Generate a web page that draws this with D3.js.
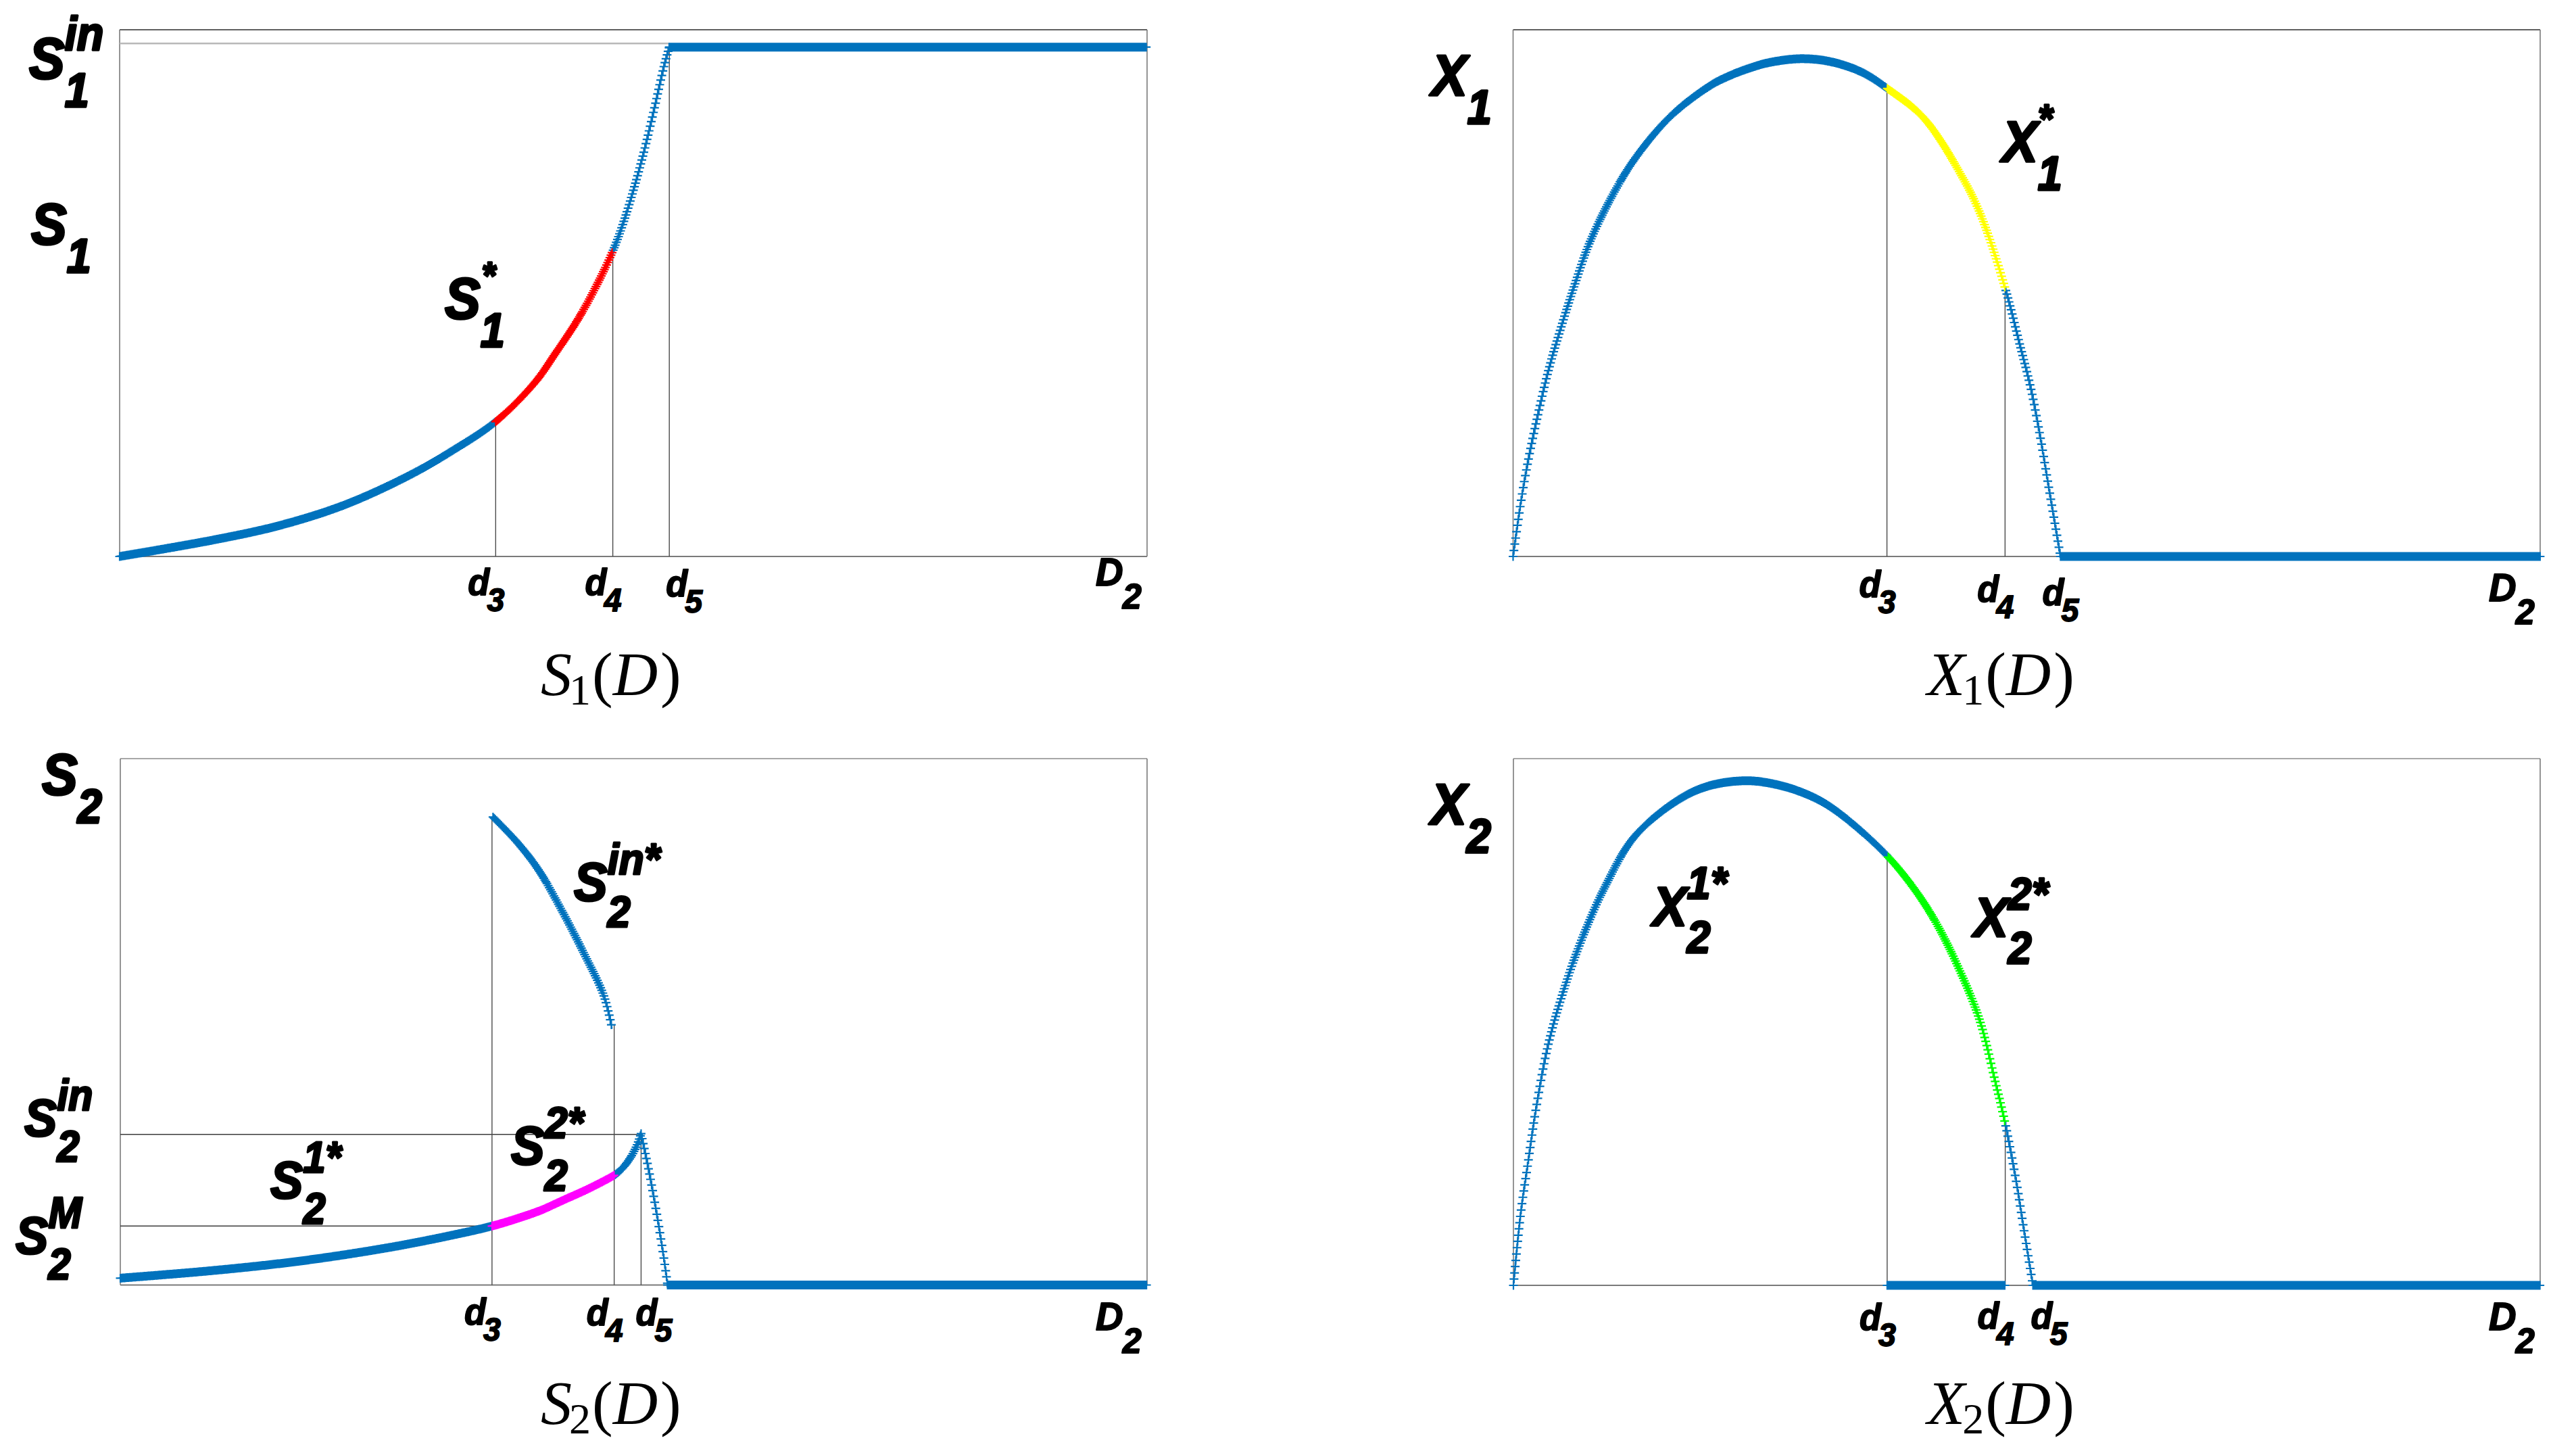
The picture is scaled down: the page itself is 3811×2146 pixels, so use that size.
<!DOCTYPE html>
<html><head><meta charset="utf-8">
<script src="https://cdn.jsdelivr.net/npm/d3@7"></script>
<style>html,body{margin:0;padding:0;background:#fff}svg{display:block}</style>
</head><body>
<svg id="chart" width="3811" height="2146"></svg>
<script>
// ---------------- data (arbitrary units, D in [0,100]) ----------------
// Panel S1(D)
const s1D = [0, 9.3, 15.6, 21.9, 28.2, 32.4, 36.6, 40.4, 42.5, 44.6, 46.3, 48.0, 49.0, 50.0, 51.0, 52.0, 53.0, 53.5];
const s1V = [0, 3.2, 5.9, 9.8, 15.4, 20.1, 25.6, 33.0, 38.8, 45.0, 51.0, 58.0, 63.2, 69.5, 76.6, 84.7, 93.2, 96.7];
const s1FlatD = [53.5, 100];
const s1FlatV = [96.7, 96.7];
const s1InLevel = 97.4;
const s1Ticks = [36.6, 48.0, 53.5];
const s1GuideTop = [25.6, 58.0, 96.7];

// Panel X1(D)
const x1D = [0, 0.75, 1.4, 2.2, 3.4, 4.5, 6.0, 7.5, 9.8, 12.0, 15.4, 19.2, 21.0, 23.0, 25.0, 28.1, 31.0, 34.0, 36.4, 40.0, 43.8, 45.6, 47.9, 49.3, 50.4, 51.3, 52.2, 53.3];
const x1V = [0, 10.2, 17.5, 25.0, 35.0, 42.4, 51.6, 59.8, 69.0, 75.9, 83.7, 89.4, 91.2, 92.7, 93.8, 94.5, 93.9, 91.9, 88.9, 83.2, 71.8, 64.5, 51.0, 40.5, 32.0, 23.0, 12.6, 0];
const x1FlatD = [53.3, 100];
const x1FlatV = [0, 0];
const x1Ticks = [36.4, 47.9, 53.3];
const x1GuideTop = [88.9, 51.0];

// Panel S2(D)
const s2D = [0, 9.3, 17.7, 26.1, 32.4, 36.2, 38.75, 40.95, 43.14, 45.34, 47.09, 48.08, 48.52, 48.85, 49.29, 49.73, 50.06, 50.39, 50.72];
const s2V = [1.3, 2.8, 4.6, 7.1, 9.5, 11.2, 12.69, 14.19, 16.12, 18.05, 19.76, 20.83, 21.47, 22.07, 23.10, 24.34, 25.50, 26.91, 28.75];
const s2DropD = [50.72, 51.5, 52.3, 53.0, 53.3];
const s2DropV = [28.75, 21.5, 12.9, 4.3, 0];
const s2FlatD = [53.3, 100];
const s2FlatV = [0, 0];
const s2InStarD = [36.3, 38.7, 40.75, 42.9, 45.0, 47.1, 47.9];
const s2InStarV = [88.9, 84.0, 78.8, 71.5, 63.6, 54.9, 48.7];
const s2InLevel = 28.6;
const s2MLevel = 11.2;
const s2Ticks = [36.2, 48.1, 50.72];
const s2GuideTop = [88.5, 49.4, 28.75];

// Panel X2(D)
const x2D = [0, 0.7, 1.4, 2.2, 3.4, 5.1, 6.8, 8.9, 11.8, 16.0, 19.0, 22.75, 26.0, 28.6, 30.5, 32.8, 36.4, 39.1, 41.2, 43.3, 45.4, 46.95, 47.9, 49.0, 49.7, 50.6];
const x2V = [0, 13.5, 23.0, 33.5, 45.8, 57.25, 66.4, 75.6, 85.2, 92.1, 94.8, 95.8, 94.9, 93.2, 91.3, 88.0, 81.55, 75.1, 68.7, 60.5, 50.4, 38.5, 30.7, 19.4, 10.8, 0];
const x2ZeroD = [36.4, 47.9];
const x2ZeroV = [0, 0];
const x2FlatD = [50.6, 100];
const x2FlatV = [0, 0];
const x2Ticks = [36.4, 47.9, 50.6];
const x2GuideTop = [81.55, 30.7];

const tickSubs = ['3', '4', '5'];

// ---------------- drawing ----------------
const BLUE = '#0072BD', RED = '#FF0000', YELLOW = '#FFFF00', MAGENTA = '#FF00FF', GREEN = '#00FF00';
const SMOOTH = d3.curveCatmullRom.alpha(0.5);
const svg = d3.select('#chart');
svg.append('rect').attr('width', 3811).attr('height', 2146).attr('fill', '#fff');

function panel(l, r, t, b, topColor) {
  const g = svg.append('g');
  const x = d3.scaleLinear().domain([0, 100]).range([l, r]);
  const y = d3.scaleLinear().domain([0, 100]).range([b, t]);
  const fr = g.append('g').attr('fill', 'none');
  fr.append('line').attr('x1', l).attr('x2', r).attr('y1', t).attr('y2', t).attr('stroke', topColor).attr('stroke-width', 1.6);
  fr.append('line').attr('x1', r).attr('x2', r).attr('y1', t).attr('y2', b).attr('stroke', '#7a7a7a').attr('stroke-width', 1.6);
  fr.append('line').attr('x1', l).attr('x2', l).attr('y1', t).attr('y2', b).attr('stroke', '#7a7a7a').attr('stroke-width', 1.6);
  fr.append('line').attr('x1', l).attr('x2', r).attr('y1', b).attr('y2', b).attr('stroke', '#7a7a7a').attr('stroke-width', 2.2);
  return {g, x, y, l, r, t, b};
}

function guide(p, d, top) {
  p.g.append('line').attr('x1', p.x(d)).attr('x2', p.x(d)).attr('y1', p.y(0)).attr('y2', p.y(top))
    .attr('stroke', '#4a4a4a').attr('stroke-width', 1.4);
}
function hguide(p, level, d1, color, w) {
  p.g.append('line').attr('x1', p.x(0)).attr('x2', p.x(d1)).attr('y1', p.y(level)).attr('y2', p.y(level))
    .attr('stroke', color).attr('stroke-width', w);
}

function drawCurve(p, D, V, segs, curve) {
  const data = D.map((d, i) => [d, V[i]]);
  const gen = d3.line().x(d => p.x(d[0])).y(d => p.y(d[1])).curve(curve || SMOOTH);
  const path = p.g.append('path').attr('d', gen(data)).attr('fill', 'none')
    .attr('stroke', BLUE).attr('stroke-width', 1.8);
  const node = path.node();
  const L = node.getTotalLength();
  const colorOf = px => {
    const dv = p.x.invert(px);
    for (const s of segs) if (dv >= s.from && dv <= s.to) return s.color;
    return BLUE;
  };
  const marks = {}, lines = {};
  let last = null, prev = null;
  const h = 6.5;
  for (let s = 0; s <= L + 0.25; s += 0.5) {
    const q = node.getPointAtLength(Math.min(s, L));
    const c = colorOf(q.x);
    if (prev && c !== BLUE) (lines[c] = lines[c] || []).push(`M${prev.x.toFixed(2)},${prev.y.toFixed(2)}L${q.x.toFixed(2)},${q.y.toFixed(2)}`);
    if (!last || Math.abs(q.x - last.x) >= 1.5 || Math.hypot(q.x - last.x, q.y - last.y) >= 9) {
      (marks[c] = marks[c] || []).push(`M${(q.x - h).toFixed(2)},${q.y.toFixed(2)}h${2 * h}M${q.x.toFixed(2)},${(q.y - h).toFixed(2)}v${2 * h}`);
      last = q;
    }
    prev = q;
  }
  for (const c in lines) p.g.append('path').attr('d', lines[c].join('')).attr('fill', 'none').attr('stroke', c).attr('stroke-width', 1.8);
  for (const c in marks) p.g.append('path').attr('d', marks[c].join('')).attr('fill', 'none').attr('stroke', c).attr('stroke-width', 2.2);
}

const LBL_FONT = '"Liberation Sans", Arial, Helvetica, sans-serif';
function lab(x, y, main, sub, sup, fs, opt) {
  opt = opt || {};
  const sx = opt.sx || 0.93;
  const sw = opt.sw !== undefined ? opt.sw : fs * 0.04;
  const g = svg.append('g').attr('transform', `translate(${x},${y}) scale(${sx},1)`)
    .attr('font-family', LBL_FONT).attr('font-weight', 'bold').attr('font-style', 'italic')
    .attr('fill', '#000').attr('stroke', '#000').attr('stroke-width', sw).attr('stroke-linejoin', 'round');
  const t = g.append('text').attr('font-size', fs).text(main);
  const w = t.node().getComputedTextLength();
  const fsS = opt.fsS || fs * 0.82;
  if (sub) g.append('text').attr('x', w + (opt.subDx || 0)).attr('y', opt.subDy !== undefined ? opt.subDy : fs * 0.49)
    .attr('font-size', fsS).text(sub);
  if (sup) g.append('text').attr('x', w + (opt.supDx || 0)).attr('y', -(opt.supDy !== undefined ? opt.supDy : fs * 0.49))
    .attr('font-size', opt.fsSup || fsS).text(sup);
}

function tickLabels(p, ticks, ys) {
  ticks.forEach((d, i) => {
    lab(p.x(d) - 41 + (ys.dx ? ys.dx[i] : 0), ys.base[i], 'd', tickSubs[i], null, 55, {fsS: 49, subDy: 24, subDx: -4, sx: 0.95, sw: 1.8});
  });
  lab(p.r - 76, ys.D2, 'D', '2', null, 58, {fsS: 52, subDy: 34, subDx: -1, sx: 0.97, sw: 1.9});
}

function mathLabel(x, y, letter, sub) {
  const t = svg.append('text').attr('x', x).attr('y', y)
    .attr('font-family', '"Liberation Serif", "Times New Roman", serif').attr('font-size', 92).attr('fill', '#000');
  t.append('tspan').attr('font-style', 'italic').text(letter);
  t.append('tspan').attr('font-size', 64).attr('dy', 14).attr('dx', -4).text(sub);
  t.append('tspan').attr('dy', -14).attr('dx', 2).text('(');
  t.append('tspan').attr('font-style', 'italic').text('D');
  t.append('tspan').attr('dx', 4).text(')');
}

// ---- Panel 1: S1(D)
const p1 = panel(177, 1697, 44, 823, '#2b2b2b');
hguide(p1, s1InLevel, s1Ticks[2], '#b8b8b8', 2.4);
s1Ticks.forEach((d, i) => guide(p1, d, s1GuideTop[i]));
drawCurve(p1, s1D, s1V, [{from: s1Ticks[0], to: s1Ticks[1], color: RED}]);
drawCurve(p1, s1FlatD, s1FlatV, [], d3.curveLinear);

// ---- Panel 2: X1(D)
const p2 = panel(2238.5, 3758, 44, 823, '#2b2b2b');
x1Ticks.slice(0, 2).forEach((d, i) => guide(p2, d, x1GuideTop[i]));
drawCurve(p2, x1D, x1V, [{from: x1Ticks[0], to: x1Ticks[1], color: YELLOW}]);
drawCurve(p2, x1FlatD, x1FlatV, [], d3.curveLinear);

// ---- Panel 3: S2(D)
const p3 = panel(178, 1697, 1122, 1900.5, '#8a8a8a');
hguide(p3, s2InLevel, s2Ticks[2], '#3c3c3c', 1.5);
hguide(p3, s2MLevel, s2Ticks[0], '#3c3c3c', 1.5);
s2Ticks.forEach((d, i) => guide(p3, d, s2GuideTop[i]));
drawCurve(p3, s2InStarD, s2InStarV, []);
drawCurve(p3, s2D, s2V, [{from: s2Ticks[0], to: s2Ticks[1], color: MAGENTA}]);
drawCurve(p3, s2DropD, s2DropV, []);
drawCurve(p3, s2FlatD, s2FlatV, [], d3.curveLinear);

// ---- Panel 4: X2(D)
const p4 = panel(2239, 3758, 1122, 1901, '#8a8a8a');
x2Ticks.slice(0, 2).forEach((d, i) => guide(p4, d, x2GuideTop[i]));
drawCurve(p4, x2D, x2V, [{from: x2Ticks[0], to: x2Ticks[1], color: GREEN}]);
drawCurve(p4, x2ZeroD, x2ZeroV, [], d3.curveLinear);
drawCurve(p4, x2FlatD, x2FlatV, [], d3.curveLinear);

// ---------------- labels ----------------
// Panel 1
lab(43, 116, 'S', '1', 'in', 85);
lab(46, 361, 'S', '1', null, 85);
lab(658, 471, 'S', '1', '*', 85, {fsSup: 56, supDy: 45, supDx: 2});
tickLabels(p1, s1Ticks, {base: [880, 880, 882], D2: 866, dx: [0, 0, 36]});
mathLabel(800, 1028, 'S', '1');

// Panel 2
lab(2118, 141, 'X', '1', null, 85);
lab(2962, 239, 'X', '1', '*', 85, {fsSup: 60, supDy: 43, supDx: 0});
tickLabels(p2, x1Ticks, {base: [883, 890, 895], D2: 889, dx: [0, 0, 14]});
mathLabel(2851, 1028, 'X', '1');

// Panel 3
lab(62, 1175, 'S', '2', null, 85);
lab(849, 1332, 'S', '2', 'in*', 80);
lab(36, 1680, 'S', '2', 'in', 78);
lab(23, 1854, 'S', '2', 'M', 78);
lab(400, 1772, 'S', '2', '1*', 78);
lab(756, 1722, 'S', '2', '2*', 80);
tickLabels(p3, s2Ticks, {base: [1959, 1960, 1960], D2: 1967, dx: [0, 0, 33]});
mathLabel(800, 2106, 'S', '2');

// Panel 4
lab(2117, 1219, 'X', '2', null, 85);
lab(2445, 1369, 'X', '2', '1*', 82);
lab(2920, 1385, 'X', '2', '2*', 82);
tickLabels(p4, x2Ticks, {base: [1967, 1965, 1965], D2: 1967, dx: [0, 0, 38]});
mathLabel(2851, 2106, 'X', '2');
</script>
</body></html>
